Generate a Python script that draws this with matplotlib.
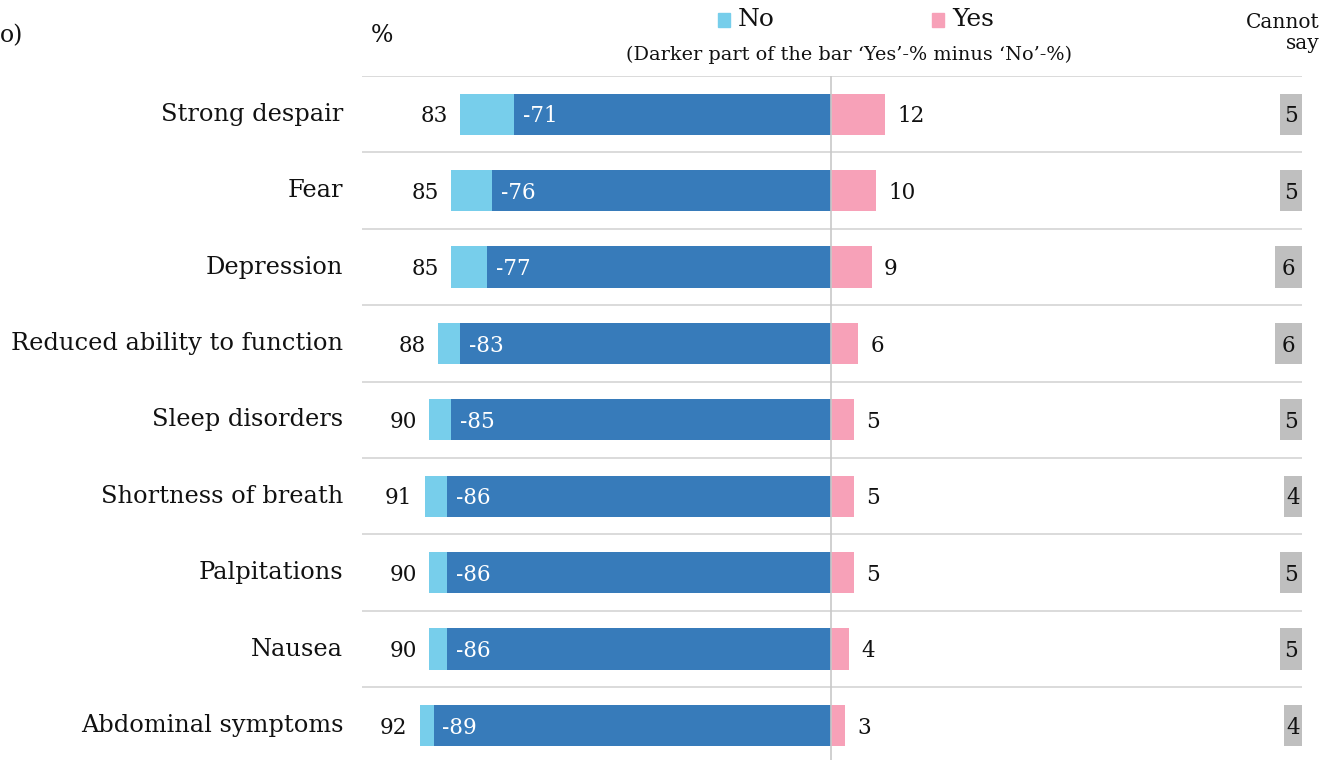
import matplotlib
matplotlib.use("Agg")
import matplotlib.pyplot as plt

categories = ["Strong despair", "Fear", "Depression", "Reduced ability to function",
              "Sleep disorders", "Shortness of breath", "Palpitations", "Nausea",
              "Abdominal symptoms"]
no_pct = [83, 85, 85, 88, 90, 91, 90, 90, 92]
yes_pct = [12, 10, 9, 6, 5, 5, 5, 4, 3]
net_pct = [-71, -76, -77, -83, -85, -86, -86, -86, -89]
cannot_say = [5, 5, 6, 6, 5, 4, 5, 5, 4]

C_NO = "#77CEEB"
C_NET = "#377BBA"
C_YES = "#F7A1B8"
C_CS = "#BFBFBF"
GRID = "#D4D4D4"
TXT = "#111111"

plt.rcParams["font.family"] = ["DejaVu Serif"]

W, H = 1324, 760
fig = plt.figure(figsize=(W / 100, H / 100), dpi=100)

# axes placed in pixel terms
x0, x1 = 362, 1302
y_top, y_bot = 76, 760
ax = fig.add_axes([x0 / W, (H - y_bot) / H, (x1 - x0) / W, (y_bot - y_top) / H])
XMIN, XMAX = -105.0, 105.3
row_px = 76.4
ax.set_xlim(XMIN, XMAX)
ax.set_ylim(-0.5 + (y_bot - y_top) / row_px, -0.5)
ax.axis("off")

n = len(categories)
ys = list(range(n))
bh = 0.54

# row separators and centre line
for i in range(n):
    ax.axhline(i - 0.5, color=GRID, lw=1.2, zorder=0)
ax.axvline(0, color="#C8C8C8", lw=1.2, zorder=3)

ax.barh(ys, [-v for v in no_pct], height=bh, color=C_NO, zorder=1)
ax.barh(ys, net_pct, height=bh, color=C_NET, zorder=2)
ax.barh(ys, yes_pct, height=bh, color=C_YES, zorder=1)
ax.barh(ys, cannot_say, left=[XMAX - v for v in cannot_say], height=bh, color=C_CS, zorder=1)

fs_num = 15.5
for i in range(n):
    yy = i + 0.03
    ax.text(-no_pct[i] - 2.8, yy, f"{no_pct[i]}", ha="right", va="center",
            fontsize=fs_num, color=TXT)
    ax.text(net_pct[i] + 2.0, yy, f"{net_pct[i]}", ha="left", va="center",
            fontsize=fs_num, color="white", zorder=4)
    ax.text(yes_pct[i] + 2.8, yy, f"{yes_pct[i]}", ha="left", va="center",
            fontsize=fs_num, color=TXT)
    ax.text(XMAX - cannot_say[i] / 2, yy, f"{cannot_say[i]}", ha="center", va="center",
            fontsize=fs_num, color=TXT)
    ax.text(XMIN - 4.2, i, categories[i], ha="right", va="center",
            fontsize=17.4, color=TXT)

# header texts
def fx(px):
    return px / W

def fy(py):
    return 1 - py / H

fig.text(fx(0), fy(36), "o)", ha="left", va="center", fontsize=17, color=TXT)
fig.text(fx(371), fy(36), "%", ha="left", va="center", fontsize=17, color=TXT)

fig.patches.append(plt.Rectangle((fx(718), fy(27)), 12 / W, 14 / H, transform=fig.transFigure,
                                 color=C_NO, figure=fig))
fig.text(fx(738), fy(20), "No", ha="left", va="center", fontsize=18, color=TXT)
fig.patches.append(plt.Rectangle((fx(932), fy(27)), 12 / W, 14 / H, transform=fig.transFigure,
                                 color=C_YES, figure=fig))
fig.text(fx(952), fy(20), "Yes", ha="left", va="center", fontsize=18, color=TXT)
fig.text(fx(849), fy(55), "(Darker part of the bar \u2018Yes\u2019-% minus \u2018No\u2019-%)",
         ha="center", va="center", fontsize=13.9, color=TXT)
fig.text(fx(1320), fy(33), "Cannot\nsay", ha="right", va="center", fontsize=14.5,
         color=TXT, linespacing=1.15)

fig.savefig("out.png", dpi=100)
